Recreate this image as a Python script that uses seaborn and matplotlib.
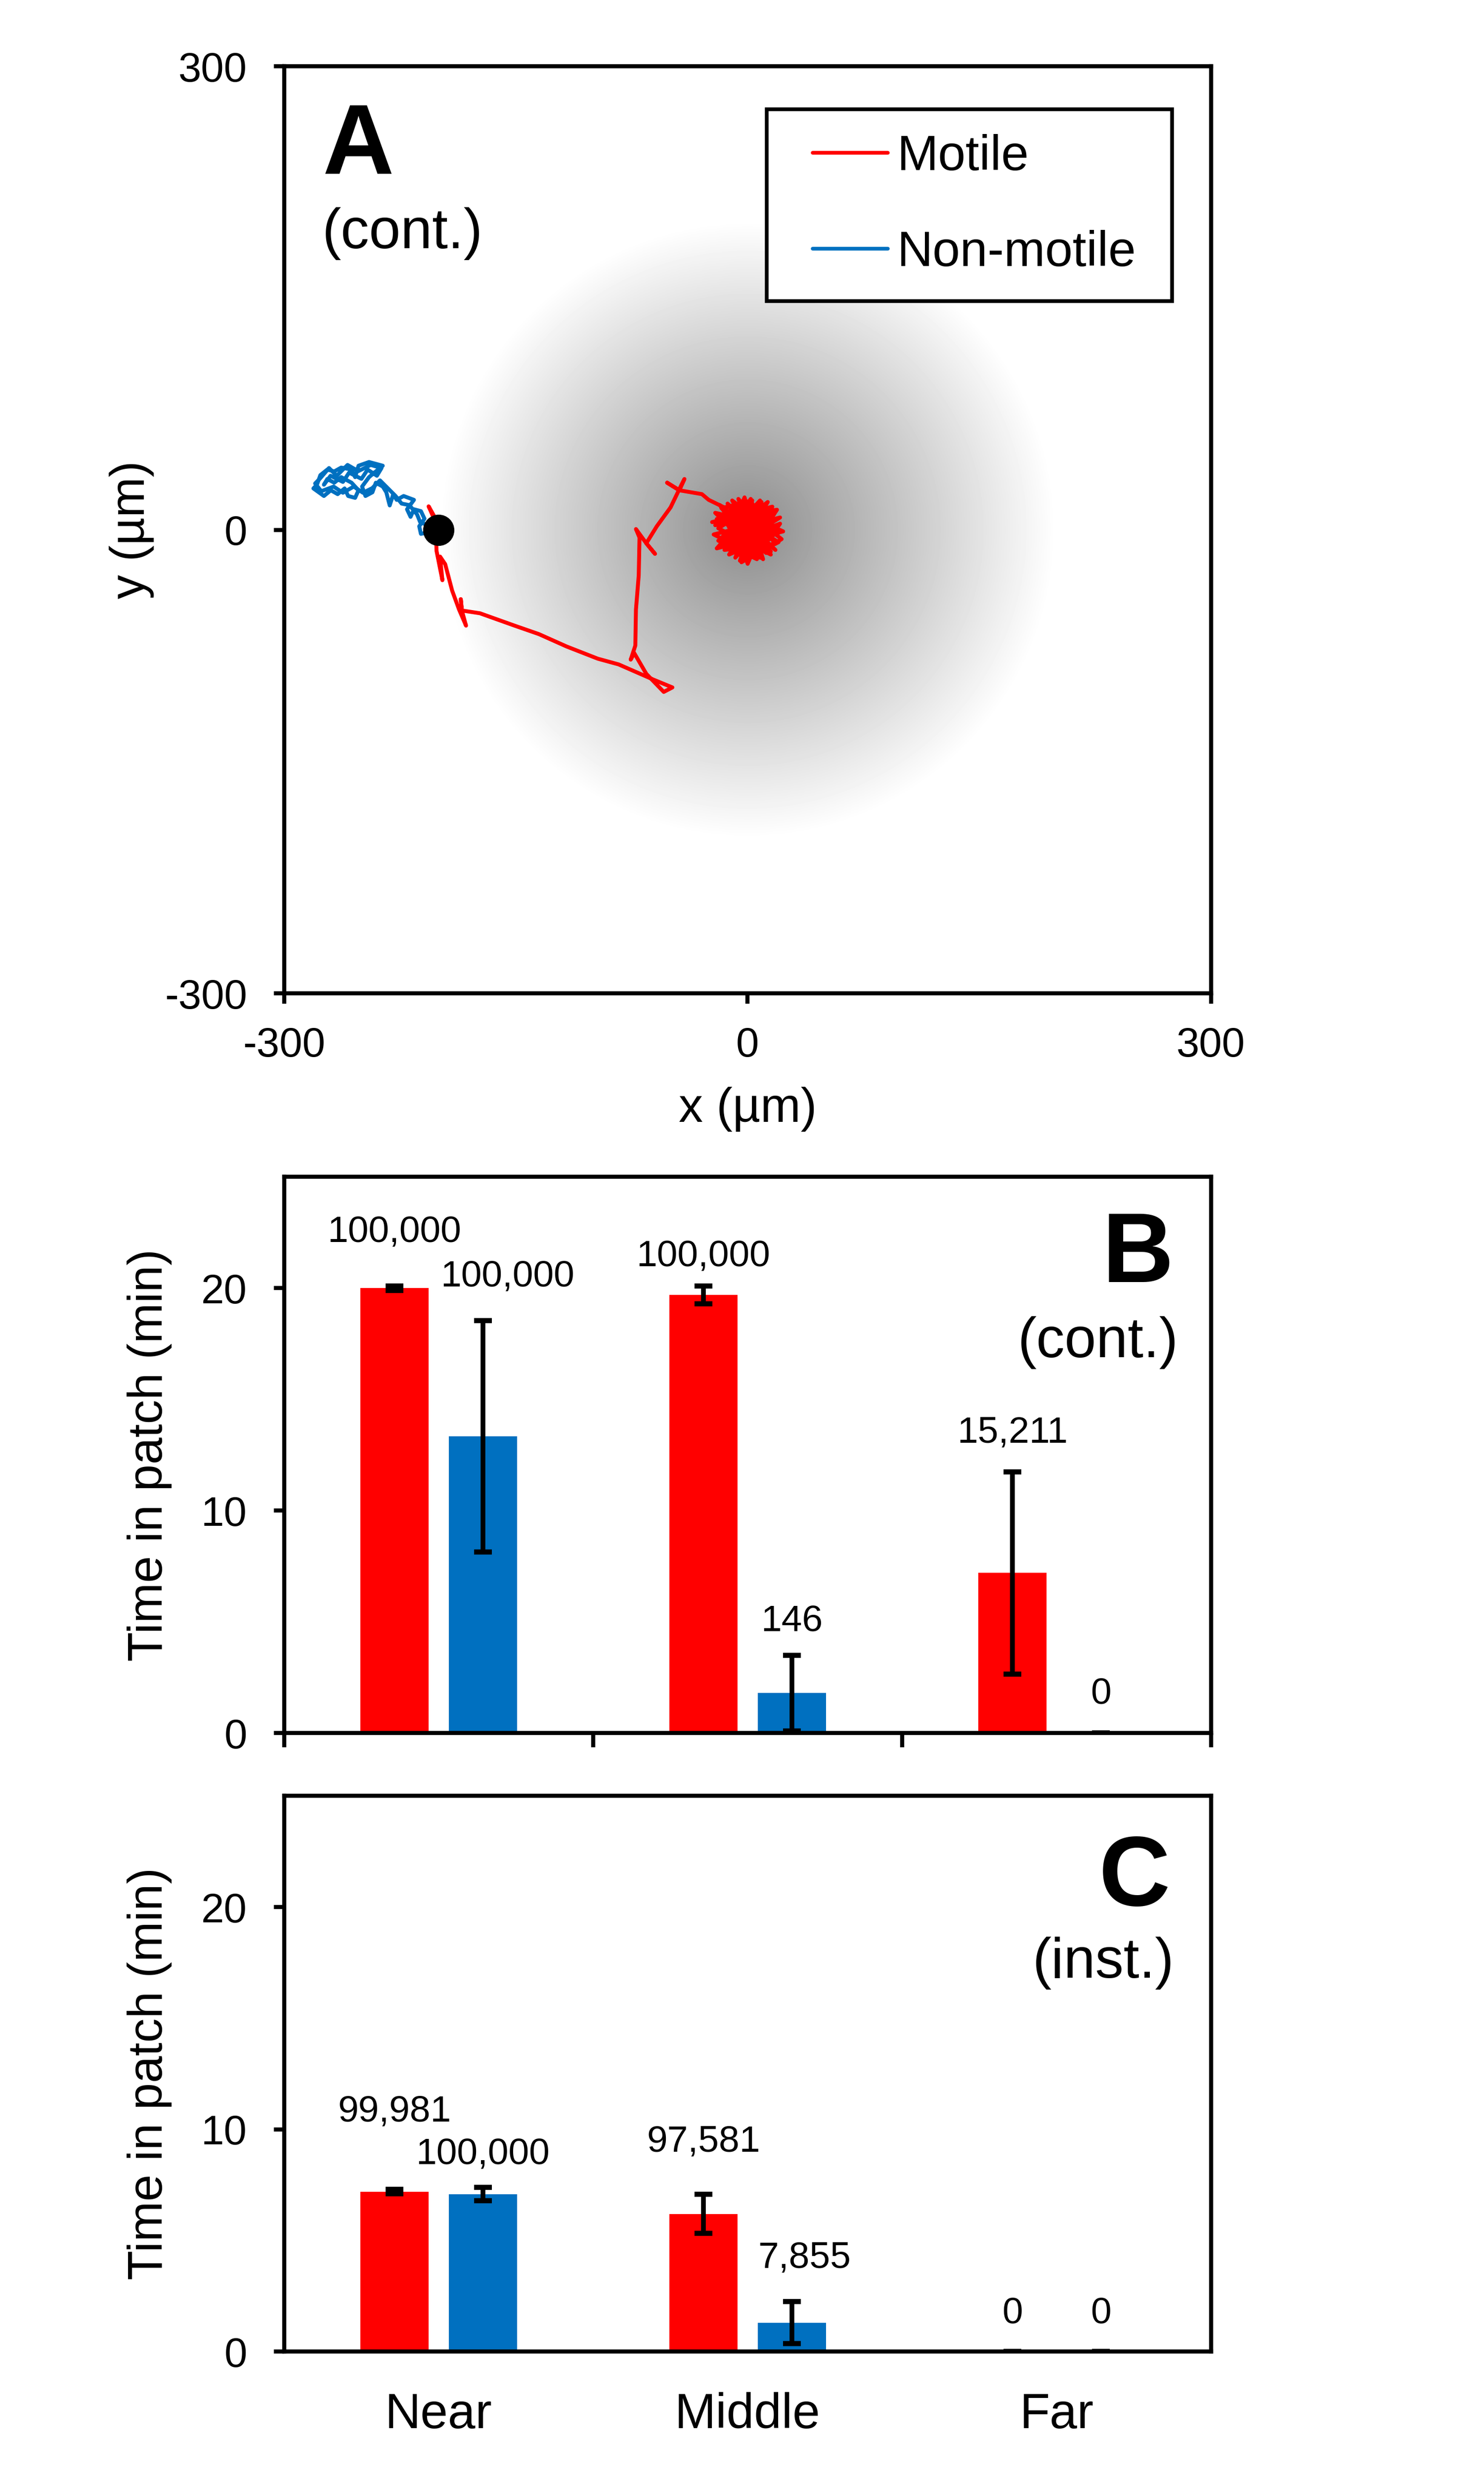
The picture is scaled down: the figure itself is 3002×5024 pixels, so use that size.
import numpy as np
import pandas as pd
import matplotlib
matplotlib.use("Agg")
import matplotlib.pyplot as plt
from matplotlib.legend_handler import HandlerLine2D
import seaborn as sns

# ---- panel A: example trajectories (um) ----
start_x = [-200.0]
start_y = [0.0]

motile_path_x = [-199.8, -206.5, -202.0, -201.4, -197.6, -199.1, -195.8, -191.3, -186.8, -182.3,
                 -185.0, -185.7, -185.0, -173.3, -150.9, -135.1, -117.2, -97.0, -83.5, -61.1,
                 -48.7, -54.3, -65.6, -73.4, -75.7, -72.7, -72.3, -70.5, -70.0, -72.3,
                 -65.6, -60.0, -65.6, -58.8, -49.9, -43.1, -40.9, -44.2, -52.1, -44.2,
                 -29.6, -25.2, -13.9]
motile_path_y = [0.0, 15.2, 7.2, -13.6, -32.6, -17.3, -22.2, -39.3, -51.6, -62.0,
                 -52.2, -44.9, -52.2, -54.0, -62.0, -67.5, -75.5, -83.4, -87.1, -96.9,
                 -102.0, -104.9, -93.2, -79.8, -84.0, -74.9, -51.6, -29.5, -5.0, 0.5,
                 -8.7, -15.5, -8.7, 2.3, 14.5, 28.6, 32.9, 25.6, 30.5, 25.6,
                 23.1, 19.4, 13.9]
# dense tangle once the motile cell sits in the patch centre
blob_x = [-14, 0, 17, -16, 12, -9, 6, -19, 20, -12,
          9, -21, 16, -4, 14, -17, 3, -11, 21, -22,
          8, -6, 18, -15, 11, -20, 19, -3, -13, 15,
          -18, 4, 22, -10, 7, -16, 13, -7, 19, -21,
          10, -2, -14, 17, -8, 5, -19, 15, -12, 20,
          -5, 9, -17, 12, -23, 16, 0, -9, 18, -13,
          6, 21, -18, 2, 14, -11, 23, -20, 8, -4, 0]
blob_y = [13, 0, 6, 9, -15, 18, -19, -7, -2, -16,
          17, 3, 11, -21, -10, 14, 19, -12, 8, -3,
          -18, 20, -9, -13, 15, 7, 13, -20, 4, -14,
          16, -17, -6, 19, -11, -4, 18, -15, 2, 11,
          -19, 21, -9, 10, -18, 16, 1, -16, 12, -8,
          -20, 18, -11, 9, 5, 15, -22, 8, -13, 17,
          -17, 4, -10, 20, -15, 14, -1, -12, 19, -19, 2]

nonmotile_x = [-199.8, -211.5, -212.6, -209.2, -211.5, -216.0, -218.2, -220.5, -216.0, -222.7,
               -227.2, -229.4, -231.7, -233.9, -236.2, -240.7, -242.9, -247.4, -249.6, -245.1,
               -240.7, -236.2, -245.1, -251.9, -254.1, -256.4, -263.1, -267.6, -272.1, -276.6,
               -278.8, -281.1, -274.3, -269.8, -265.4, -260.9, -258.6, -254.1, -251.9, -256.4,
               -263.1, -267.6, -272.1, -274.3, -270.0, -262.0, -258.0, -250.0, -246.0, -240.0,
               -237.0, -244.0, -252.0, -259.0, -266.0, -271.0, -277.0, -280.0, -276.0, -268.0,
               -262.0, -255.0, -249.0, -243.0, -238.0, -233.0, -228.0, -224.0, -219.0, -214.0,
               -212.0, -207.0]
nonmotile_y = [0.0, -2.6, 2.3, 7.2, 12.1, 13.3, 8.4, 13.3, 19.4, 21.9,
               19.4, 23.1, 15.8, 24.3, 28.0, 30.5, 24.3, 21.9, 28.0, 34.1,
               37.8, 41.5, 43.9, 41.5, 34.1, 39.0, 40.3, 37.8, 39.0, 35.4,
               29.2, 26.8, 21.9, 25.6, 23.1, 26.8, 21.9, 20.7, 25.6, 30.5,
               34.1, 30.5, 32.9, 29.2, 35.0, 31.0, 37.0, 33.0, 39.0, 35.0,
               40.0, 42.0, 38.0, 42.0, 35.0, 40.0, 33.0, 30.0, 25.0, 28.0,
               24.0, 28.0, 24.0, 27.0, 32.0, 27.0, 22.0, 17.0, 16.0, 10.0,
               5.0, 3.0]

patch_radius = 200.0   # um
patch_depth = 0.45     # darkness at the patch centre

# ---- panels B and C: mean time in patch (min), SD, and counts ----
zones = ["Near", "Middle", "Far"]
groups = ["Motile", "Non-motile"]

cont_motile_mean = [20.0, 19.7, 7.2]
cont_motile_sd = [0.1, 0.4, 4.55]
cont_nonmotile_mean = [13.35, 1.8, 0.0]
cont_nonmotile_sd = [5.2, 1.7, 0.0]
cont_motile_n = ["100,000", "100,000", "15,211"]
cont_nonmotile_n = ["100,000", "146", "0"]

inst_motile_mean = [7.2, 6.2, 0.0]
inst_motile_sd = [0.1, 0.87, 0.0]
inst_nonmotile_mean = [7.08, 1.3, 0.0]
inst_nonmotile_sd = [0.3, 0.95, 0.0]
inst_motile_n = ["99,981", "97,581", "0"]
inst_nonmotile_n = ["100,000", "7,855", "0"]

# where the count labels sit
cont_label_y = [[22.5, 21.4, 13.5], [20.5, 5.0, 1.75]]
cont_label_dx = [[0, 0, 0], [0.08, 0, 0]]
inst_label_y = [[10.8, 9.43, 1.7], [8.85, 4.2, 1.7]]
inst_label_dx = [[0, 0, 0], [0, 0.04, 0]]

colors = {"Motile": "#FF0000", "Non-motile": "#0070C0"}

sns.set_style("ticks")
plt.rcParams["font.family"] = ["Liberation Sans", "DejaVu Sans"]
plt.rcParams.update({
    "axes.linewidth": 2,
    "axes.edgecolor": "black",
    "axes.labelcolor": "black",
    "text.color": "black",
    "xtick.color": "black",
    "ytick.color": "black",
    "axes.unicode_minus": False,
})

fig = plt.figure(figsize=(3002 / 300, 5024 / 300), dpi=300)
axA = fig.add_axes([0.1915, 0.6001, 0.6246, 0.3732])
axB = fig.add_axes([0.1915, 0.3023, 0.6246, 0.2239])
axC = fig.add_axes([0.1915, 0.0533, 0.6246, 0.2237])

# ---- A ----
g = np.linspace(-300, 300, 601)
gx, gy = np.meshgrid(g, g)
shade = np.clip(1 - np.hypot(gx, gy) / patch_radius, 0, 1)
axA.imshow(1 - patch_depth * shade, cmap="gray", vmin=0, vmax=1,
           extent=[-300, 300, -300, 300], origin="lower", zorder=0,
           interpolation="bilinear")

traj = pd.DataFrame({
    "x": motile_path_x + blob_x + nonmotile_x,
    "y": motile_path_y + blob_y + nonmotile_y,
    "cell": ["Motile"] * (len(motile_path_x) + len(blob_x)) + ["Non-motile"] * len(nonmotile_x),
})
sns.lineplot(data=traj, x="x", y="y", hue="cell", hue_order=groups, palette=colors,
             sort=False, estimator=None, linewidth=1.9, ax=axA, zorder=2)
for ln in axA.lines:
    ln.set_solid_joinstyle("round")
    ln.set_solid_capstyle("round")
axA.scatter(start_x, start_y, s=230, color="black", zorder=4, linewidths=0)

axA.set_xlim(-300, 300)
axA.set_ylim(-300, 300)
axA.set_xticks([-300, 0, 300])
axA.set_yticks([-300, 0, 300])
axA.tick_params(axis="both", length=5, width=2, labelsize=20)
axA.tick_params(axis="x", pad=11)
axA.tick_params(axis="y", pad=13)
axA.set_xlabel("x (µm)", fontsize=23.5)
axA.set_ylabel("y (µm)", fontsize=23.5)
axA.xaxis.set_label_coords(0.5, -0.1008)
axA.yaxis.set_label_coords(-0.1403, 0.5)

handles, labels = axA.get_legend_handles_labels()
leg = axA.legend(handles, labels, loc="upper left", bbox_to_anchor=(0.5205, 0.749, 0.4375, 0.2047),
                 mode="expand", borderaxespad=0, fontsize=24, handlelength=1.95,
                 handletextpad=0.19, borderpad=0.5, labelspacing=1.0,
                 fancybox=False, framealpha=1, edgecolor="black",
                 handler_map={h: HandlerLine2D(xpad=0.43) for h in handles})
leg.get_frame().set_linewidth(1.8)
for h in leg.get_lines():
    h.set_linewidth(1.8)

axA.text(0.041, 0.8848, "A", transform=axA.transAxes, fontsize=48, fontweight="bold", va="baseline")
axA.text(0.041, 0.8037, "(cont.)", transform=axA.transAxes, fontsize=27.5, va="baseline")


# ---- B and C ----
def bar_panel(ax, m_mean, m_sd, n_mean, n_sd, m_n, n_n, label_y, label_dx):
    df = pd.DataFrame({
        "zone": zones * 2,
        "group": ["Motile"] * 3 + ["Non-motile"] * 3,
        "time": m_mean + n_mean,
    })
    sns.barplot(data=df, x="zone", y="time", hue="group", order=zones, hue_order=groups,
                palette=colors, width=0.572, gap=0.23, saturation=1, errorbar=None,
                legend=False, linewidth=0, ax=ax)
    for cont, means, sds, labs, ly, dx in zip(ax.containers, [m_mean, n_mean], [m_sd, n_sd],
                                              [m_n, n_n], label_y, label_dx):
        xs = [b.get_x() + b.get_width() / 2 for b in cont]
        ax.errorbar(xs, means, yerr=sds, fmt="none", ecolor="black", elinewidth=2.3,
                    capsize=4.3, capthick=2.5, zorder=3)
        for x, lab, y, d in zip(xs, labs, ly, dx):
            ax.text(x + d, y, lab, ha="center", va="center", fontsize=18)
    ax.set_xlim(-0.5, 2.5)
    ax.set_ylim(0, 25)
    ax.set_yticks([0, 10, 20])
    ax.tick_params(axis="y", length=5, width=2, pad=13, labelsize=20)
    ax.set_xlabel("")
    ax.set_ylabel("Time in patch (min)", fontsize=23.5)
    ax.yaxis.set_label_coords(-0.121, 0.5)


bar_panel(axB, cont_motile_mean, cont_motile_sd, cont_nonmotile_mean, cont_nonmotile_sd,
          cont_motile_n, cont_nonmotile_n, cont_label_y, cont_label_dx)
axB.set_xticks([-0.5, 0.5, 1.5, 2.5])
axB.set_xticklabels([])
axB.tick_params(axis="x", length=7, width=2)
axB.text(0.9595, 0.8107, "B", transform=axB.transAxes, fontsize=48, fontweight="bold",
         ha="right", va="baseline")
axB.text(0.9648, 0.676, "(cont.)", transform=axB.transAxes, fontsize=27.5, ha="right", va="baseline")

bar_panel(axC, inst_motile_mean, inst_motile_sd, inst_nonmotile_mean, inst_nonmotile_sd,
          inst_motile_n, inst_nonmotile_n, inst_label_y, inst_label_dx)
axC.set_xticks([0, 1, 2])
axC.set_xticklabels(zones)
axC.tick_params(axis="x", length=0, pad=19.7, labelsize=24)
axC.text(0.956, 0.803, "C", transform=axC.transAxes, fontsize=48, fontweight="bold",
         ha="right", va="baseline")
axC.text(0.9605, 0.673, "(inst.)", transform=axC.transAxes, fontsize=27.5, ha="right", va="baseline")

for ax in (axA, axB, axC):
    for s in ax.spines.values():
        s.set_visible(True)
        s.set_linewidth(2)
        s.set_zorder(5)

fig.savefig("out.png", dpi=300)
